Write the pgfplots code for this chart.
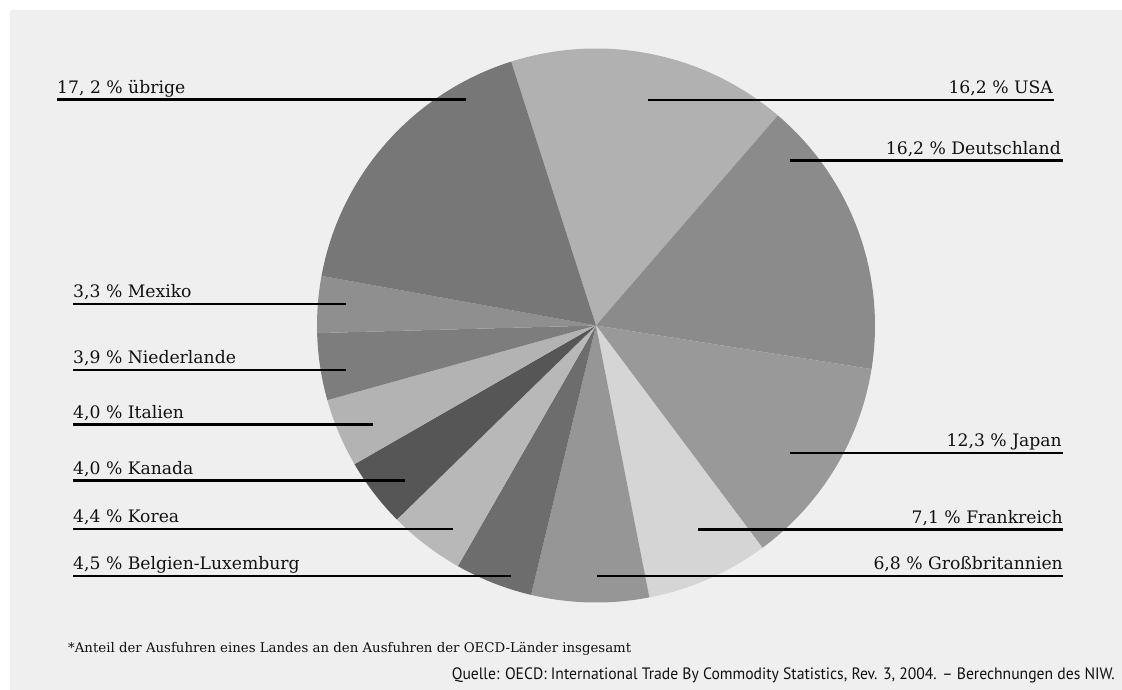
\documentclass[border=0pt]{standalone}
\usepackage{pgfplots}
\pgfplotsset{compat=1.18}
\usepackage{pgfplotstable}
\usepackage{graphicx}
\usepackage{fontspec}
\setmainfont{DejaVu Serif}
\newfontfamily\srcfont{PT Sans}

\definecolor{bg}{HTML}{EFEFEF}
\definecolor{txt}{HTML}{111111}
\definecolor{c0}{HTML}{B1B1B1}  % USA
\definecolor{c1}{HTML}{8B8B8B}  % Deutschland
\definecolor{c2}{HTML}{999999}  % Japan
\definecolor{c3}{HTML}{D5D5D5}  % Frankreich
\definecolor{c4}{HTML}{969696}  % Grossbritannien
\definecolor{c5}{HTML}{6D6D6D}  % Belgien-Luxemburg
\definecolor{c6}{HTML}{B8B8B8}  % Korea
\definecolor{c7}{HTML}{565656}  % Kanada
\definecolor{c8}{HTML}{B3B3B3}  % Italien
\definecolor{c9}{HTML}{7D7D7D}  % Niederlande
\definecolor{c10}{HTML}{8F8F8F} % Mexiko
\definecolor{c11}{HTML}{777777} % uebrige

% shares in percent, clockwise from the top
\pgfplotstableread{
share
16.2
16.2
12.3
7.1
6.8
4.5
4.4
4.0
4.0
3.9
3.3
17.2
}\piedata

\pgfmathsetmacro\cur{107.7}
\pgfplotsforeachungrouped \i in {0,...,11}{%
  \pgfplotstablegetelem{\i}{share}\of\piedata
  \pgfmathsetmacro\nxt{\cur-\pgfplotsretval*360/99.9}%
  \expandafter\xdef\csname sa\i\endcsname{\cur}%
  \expandafter\xdef\csname ea\i\endcsname{\nxt}%
  \global\let\cur\nxt
}

\tikzset{
  lab/.style={font=\fontsize{17.2}{20}\selectfont, inner sep=0pt, text=txt},
  lead/.style={line width=2.9pt, black},
}

\begin{document}
\begin{tikzpicture}
\begin{axis}[
  x=1pt, y=1pt,
  xmin=0, xmax=1122, ymin=0, ymax=690,
  hide axis, clip=false,
]
\fill[white] (0,0) rectangle (1122,690);
\fill[bg] (10,0) rectangle (1122,680);

\pgfplotsinvokeforeach{0,...,11}{%
  \fill[c#1] (596,364.5) -- ++(\csname sa#1\endcsname:279pt and 277pt)
     arc[start angle=\csname sa#1\endcsname, end angle=\csname ea#1\endcsname,
         x radius=279pt, y radius=277pt] -- cycle;
}

% left labels
\node[lab, anchor=base west] at (57,596.5) {17, 2 \% übrige};
\draw[lead] (57,590.5) -- (466,590.5);
\node[lab, anchor=base west] at (73,392) {3,3 \% Mexiko};
\draw[lead] (73,386) -- (346,386);
\node[lab, anchor=base west] at (73,326) {3,9 \% Niederlande};
\draw[lead] (73,320) -- (346,320);
\node[lab, anchor=base west] at (73,271.5) {4,0 \% Italien};
\draw[lead] (73,265.5) -- (373,265.5);
\node[lab, anchor=base west] at (73,215.5) {4,0 \% Kanada};
\draw[lead] (73,209.5) -- (405,209.5);
\node[lab, anchor=base west] at (73,167) {4,4 \% Korea};
\draw[lead] (73,161) -- (453,161);
\node[lab, anchor=base west] at (73,120) {4,5 \% Belgien-Luxemburg};
\draw[lead] (73,114) -- (511,114);

% right labels
\node[lab, anchor=base east] at (1053,596) {16,2 \% USA};
\draw[lead] (648,590) -- (1054,590);
\node[lab, anchor=base east] at (1061,535.3) {16,2 \% Deutschland};
\draw[lead] (790,529.3) -- (1063,529.3);
\node[lab, anchor=base east] at (1062,243) {12,3 \% Japan};
\draw[lead] (790,237) -- (1063,237);
\node[lab, anchor=base east] at (1063,166.7) {7,1 \% Frankreich};
\draw[lead] (698,160.7) -- (1063,160.7);
\node[lab, anchor=base east] at (1063,120) {6,8 \% Großbritannien};
\draw[lead] (597,114) -- (1063,114);

% notes
\node[inner sep=0pt, anchor=base west, text=txt] at (68,37)
  {\resizebox{563pt}{!}{\fontsize{12.6}{15}\selectfont *Anteil der Ausfuhren eines Landes an den Ausfuhren der OECD-Länder insgesamt}};
\node[inner sep=0pt, anchor=base east, text=txt] at (1115,10)
  {\resizebox{663pt}{\height}{\srcfont\fontsize{16.5}{19}\selectfont Quelle: OECD: International Trade By Commodity Statistics, Rev. 3, 2004. – Berechnungen des NIW.}};
\end{axis}
\end{tikzpicture}
\end{document}
